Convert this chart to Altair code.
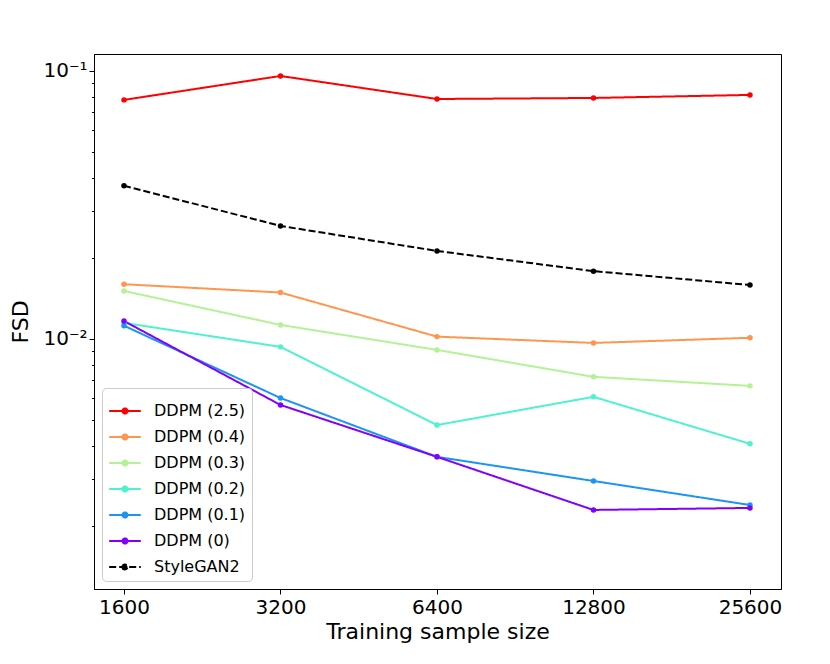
import altair as alt
import pandas as pd

sizes = [1600, 3200, 6400, 12800, 25600]
series_names = ["DDPM (2.5)", "DDPM (0.4)", "DDPM (0.3)", "DDPM (0.2)", "DDPM (0.1)", "DDPM (0)", "StyleGAN2"]
ddpm_25 = [0.0780, 0.0958, 0.0786, 0.0793, 0.0814]
ddpm_04 = [0.0160, 0.0149, 0.0102, 0.00966, 0.0101]
ddpm_03 = [0.0151, 0.01128, 0.0091, 0.00722, 0.00668]
ddpm_02 = [0.01148, 0.00934, 0.00477, 0.00608, 0.00406]
ddpm_01 = [0.0112, 0.00602, 0.00363, 0.00295, 0.0024]
ddpm_00 = [0.01166, 0.00567, 0.00363, 0.0023, 0.00234]
stylegan2 = [0.0373, 0.0264, 0.0213, 0.0179, 0.0159]
colors = ["#ff0000", "#ff964f", "#b3f396", "#4df3ce", "#1a96f2", "#8000ff", "#000000"]
dashes = [[1, 0]] * 6 + [[7, 3]]

all_series = [ddpm_25, ddpm_04, ddpm_03, ddpm_02, ddpm_01, ddpm_00, stylegan2]
rows = []
for name, vals in zip(series_names, all_series):
    for s, v in zip(sizes, vals):
        rows.append({"size": s, "fsd": v, "series": name})
df = pd.DataFrame(rows)

y_major = [0.01, 0.1]
y_minor = [0.002, 0.003, 0.004, 0.005, 0.006, 0.007, 0.008, 0.009,
           0.02, 0.03, 0.04, 0.05, 0.06, 0.07, 0.08, 0.09]

sym = "M-1,0L1,0M-0.16,0A0.16,0.16 0 1,0 0.16,0A0.16,0.16 0 1,0 -0.16,0Z"

color_scale = alt.Scale(domain=series_names, range=colors)
dash_scale = alt.Scale(domain=series_names, range=dashes)
y_scale = alt.Scale(type="log", domain=[0.001166, 0.1157], nice=False, zero=False)

x_enc = alt.X("size:Q", scale=alt.Scale(type="log", base=2, domain=[1401, 29370], nice=False),
              axis=alt.Axis(values=sizes, format="d", title="Training sample size",
                            labelFontSize=20, titleFontSize=22, labelPadding=3,
                            titlePadding=4, tickSize=5, labelFlush=False))
y_enc = alt.Y("fsd:Q", scale=y_scale,
              axis=alt.Axis(values=y_major, title="FSD", tickSize=5, orient="left",
                            labelExpr="'10⁻' + (datum.value > 0.05 ? '¹' : '²')",
                            labelFontSize=20, titleFontSize=22, titlePadding=10))
y_enc_minor = alt.Y("fsd:Q", scale=y_scale,
                    axis=alt.Axis(values=y_minor, title=None, tickSize=2.5, labels=False,
                                  domain=False, orient="left", offset=0))

legend = alt.Legend(title=None, orient="bottom-left", offset=8, symbolType=sym, symbolSize=1000,
                    symbolStrokeWidth=2, labelFontSize=16, fillColor="white",
                    strokeColor="#cccccc", cornerRadius=4, padding=6, rowPadding=1,
                    labelOffset=12)

lines = alt.Chart(df).mark_line(strokeWidth=2).encode(
    x=x_enc, y=y_enc,
    color=alt.Color("series:N", scale=color_scale, legend=legend, sort=series_names),
    strokeDash=alt.StrokeDash("series:N", scale=dash_scale, legend=legend, sort=series_names),
    order=alt.Order("size:Q"),
)
points = alt.Chart(df).mark_circle(size=30, opacity=1).encode(
    x="size:Q", y=y_enc_minor,
    color=alt.Color("series:N", scale=color_scale, legend=None),
)

chart = alt.layer(lines, points).resolve_axis(y="independent").properties(
    width=687, height=535,
    autosize=alt.AutoSizeParams(type="none"),
    padding={"left": 86, "top": 46, "right": 34, "bottom": 67},
).configure_view(stroke="black", strokeWidth=1).configure_axis(
    grid=False, domainColor="black", tickColor="black", labelColor="black",
    titleColor="black", labelFont="DejaVu Sans", titleFont="DejaVu Sans", titleFontWeight="normal",
).configure_legend(labelFont="DejaVu Sans", labelColor="black")

chart.save("out.html", embed_options={"renderer": "svg", "actions": False})
